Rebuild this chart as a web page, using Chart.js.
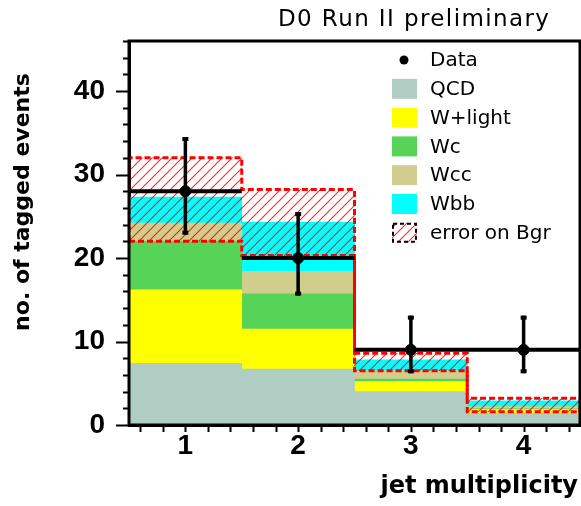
<!DOCTYPE html>
<html><head><meta charset="utf-8">
<script src="https://cdn.jsdelivr.net/npm/chart.js@4.4.0/dist/chart.umd.min.js"></script>
<style>html,body{margin:0;padding:0;background:#fff;}</style>
</head><body>
<canvas id="c" width="581" height="506"></canvas>
<script>
const categories = [1, 2, 3, 4];
const qcd    = [7.4, 6.7, 4.0, 1.4];
const wlight = [8.8, 4.8, 1.2, 0.45];
const wc     = [5.8, 4.2, 0.3, 0.1];
const wcc    = [2.2, 2.7, 1.0, 0.25];
const wbb    = [3.1, 5.9, 1.3, 0.7];
const bgrLow  = [22.0, 20.3, 6.5, 1.6];
const bgrHigh = [32.0, 28.2, 8.6, 3.2];
const dataVals = [28, 20, 9, 9];
const dataLow  = [22.8, 15.5, 6.2, 6.2];
const dataHigh = [34.5, 25.5, 13.1, 13.1];
const xTickLabels = [1, 2, 3, 4];
const yTickLabels = [0, 10, 20, 30, 40];

const canvas = document.getElementById('c');
const ctx0 = canvas.getContext('2d');
function makeHatch() {
  const s = 10;
  const p = document.createElement('canvas');
  p.width = s; p.height = s;
  const g = p.getContext('2d');
  g.strokeStyle = 'rgba(255,0,0,0.85)';
  g.lineWidth = 1.1;
  g.beginPath();
  g.moveTo(0, s); g.lineTo(s, 0);
  g.moveTo(-s, s); g.lineTo(s, -s);
  g.moveTo(0, 2 * s); g.lineTo(2 * s, 0);
  g.stroke();
  return ctx0.createPattern(p, 'repeat');
}
const hatch = makeHatch();

const pts = (arr) => categories.map((c, i) => ({x: c, y: arr[i]}));
const comp = (label, arr, color) => ({
  type: 'bar', label, data: pts(arr), backgroundColor: color, borderWidth: 0,
  barPercentage: 1, categoryPercentage: 1, order: 3, stack: 'bg'
});

const datasets = [
  comp('QCD', qcd, '#b0cdc4'),
  comp('W+light', wlight, '#ffff00'),
  comp('Wc', wc, '#57d357'),
  comp('Wcc', wcc, '#d1cd8c'),
  comp('Wbb', wbb, '#00ffff'),
  {
    type: 'bar', label: 'error on Bgr', data: categories.map((c, i) => ({x: c, y: [bgrLow[i], bgrHigh[i]]})),
    backgroundColor: hatch, borderWidth: 0, barPercentage: 1, categoryPercentage: 1,
    grouped: false, order: 2, stack: 'err'
  },
  {
    type: 'line', label: 'Data step', stack: 'dstep', order: 1,
    data: categories.flatMap((c, i) => [{x: c - 0.5, y: dataVals[i]}, {x: c + 0.5, y: dataVals[i]}, {x: c + 0.5, y: null}]),
    borderColor: '#000', borderWidth: 4, pointRadius: 0, spanGaps: false, fill: false
  },
  {
    type: 'line', label: 'Data', stack: 'dpts', order: 0, data: pts(dataVals),
    showLine: false, pointRadius: 5.5, pointBackgroundColor: '#000', pointBorderColor: '#000', borderColor: '#000'
  }
];
const BAND = 5, POINTS = 7;

const bandOutline = {
  id: 'bandOutline',
  afterDatasetDraw(chart, args) {
    if (args.index !== BAND) return;
    const ctx = chart.ctx, a = chart.chartArea;
    const els = chart.getDatasetMeta(BAND).data;
    ctx.save();
    ctx.beginPath(); ctx.rect(a.left, a.top, a.right - a.left, a.bottom - a.top); ctx.clip();
    ctx.setLineDash([6, 3]); ctx.lineWidth = 3; ctx.strokeStyle = '#ff0000';
    const geo = els.map(e => e.getProps(['x', 'y', 'base', 'width'], true));
    ctx.beginPath();
    geo.forEach((g, i) => {
      const l = g.x - g.width / 2, r = g.x + g.width / 2;
      if (i === 0) { ctx.moveTo(l, g.base); ctx.lineTo(l, g.y); } else ctx.lineTo(l, g.y);
      ctx.lineTo(r, g.y);
      if (i === geo.length - 1) ctx.lineTo(r, g.base);
    });
    ctx.stroke();
    ctx.beginPath();
    geo.forEach((g, i) => {
      const l = g.x - g.width / 2, r = g.x + g.width / 2;
      if (i === 0) ctx.moveTo(l, g.base); else ctx.lineTo(l, g.base);
      ctx.lineTo(r, g.base);
    });
    ctx.stroke();
    ctx.restore();
  }
};

const errorBars = {
  id: 'errorBars',
  afterDatasetsDraw(chart) {
    const ctx = chart.ctx, xs = chart.scales.x, ys = chart.scales.y;
    ctx.save();
    ctx.strokeStyle = '#000'; ctx.fillStyle = '#000'; ctx.lineWidth = 3.5;
    categories.forEach((c, i) => {
      const x = xs.getPixelForValue(c);
      const yl = ys.getPixelForValue(dataLow[i]), yh = ys.getPixelForValue(dataHigh[i]);
      ctx.beginPath(); ctx.moveTo(x, yl); ctx.lineTo(x, yh); ctx.stroke();
      ctx.fillRect(x - 3, yh, 6, 4);
      ctx.fillRect(x - 3, yl - 4, 6, 4);
    });
    ctx.restore();
  }
};

const decorations = {
  id: 'decorations',
  afterDraw(chart) {
    const ctx = chart.ctx, a = chart.chartArea, xs = chart.scales.x, ys = chart.scales.y;
    ctx.save();
    // frame
    ctx.strokeStyle = '#000'; ctx.lineWidth = 3;
    ctx.strokeRect(a.left, a.top, a.right - a.left, a.bottom - a.top);
    // y ticks (outward)
    ctx.lineWidth = 2;
    for (let v = 0; v <= ys.max + 1e-9; v += 2) {
      const y = Math.round(ys.getPixelForValue(v)) + 0.5;
      const len = (v % 10 === 0) ? 13 : 6;
      ctx.beginPath(); ctx.moveTo(a.left - len, y); ctx.lineTo(a.left, y); ctx.stroke();
    }
    // x ticks (outward)
    for (let k = 3; k <= 22; k++) {
      const v = k * 0.2;
      const x = Math.round(xs.getPixelForValue(v)) + 0.5;
      ctx.beginPath(); ctx.moveTo(x, a.bottom); ctx.lineTo(x, a.bottom + 7); ctx.stroke();
    }
    // title
    ctx.fillStyle = '#000';
    ctx.font = '23px "DejaVu Sans"';
    ctx.letterSpacing = '1.4px';
    ctx.textAlign = 'left'; ctx.textBaseline = 'alphabetic';
    ctx.fillText('D0 Run II preliminary', 278, 26);
    ctx.letterSpacing = '0px';
    // x title
    ctx.font = 'bold 24px "DejaVu Sans"';
    ctx.textAlign = 'right';
    ctx.fillText('jet multiplicity', 578, 493);
    // y title
    ctx.save();
    ctx.translate(23, 202); ctx.rotate(-Math.PI / 2);
    ctx.font = 'bold 22px "DejaVu Sans"';
    ctx.textAlign = 'center'; ctx.textBaseline = 'middle';
    ctx.fillText('no. of tagged events', 0, 0);
    ctx.restore();
    // legend
    const items = [POINTS, 0, 1, 2, 3, 4, BAND];
    ctx.font = '20px "DejaVu Sans"';
    ctx.textAlign = 'left'; ctx.textBaseline = 'middle';
    items.forEach((di, r) => {
      const ds = chart.data.datasets[di];
      const y = 60 + r * 28.8;
      if (di === POINTS) {
        ctx.beginPath(); ctx.arc(404, y, 4.5, 0, Math.PI * 2); ctx.fillStyle = '#000'; ctx.fill();
      } else if (di === BAND) {
        ctx.fillStyle = '#fff'; ctx.fillRect(392, y - 10, 25, 20);
        ctx.fillStyle = hatch; ctx.fillRect(392, y - 10, 25, 20);
        ctx.setLineDash([4, 3]); ctx.lineWidth = 2; ctx.strokeStyle = '#000';
        ctx.strokeRect(393, y - 9, 23, 18); ctx.setLineDash([]);
      } else {
        ctx.fillStyle = ds.backgroundColor; ctx.fillRect(392, y - 10, 25, 20);
      }
      ctx.fillStyle = '#000';
      ctx.fillText(ds.label, 430, y + 1);
    });
    ctx.restore();
  }
};

new Chart(canvas, {
  data: {datasets},
  options: {
    responsive: false, animation: false, devicePixelRatio: 1, events: [],
    layout: {autoPadding: false, padding: {left: 0, right: 1, top: 41, bottom: 0}},
    plugins: {legend: {display: false}, tooltip: {enabled: false}, title: {display: false}},
    scales: {
      x: {
        type: 'linear', min: 0.5, max: 4.5, stacked: true, offset: false,
        afterFit: (s) => { s.height = 81; s.paddingLeft = 0; s.paddingRight = 0; },
        afterBuildTicks: (s) => { s.ticks = xTickLabels.map(v => ({value: v})); },
        grid: {display: false, drawTicks: false},
        border: {display: true, width: 3, color: '#000'},
        ticks: {padding: 4, color: '#000', font: {family: 'Liberation Sans', size: 28, weight: 'bold'}, maxRotation: 0, autoSkip: false}
      },
      y: {
        type: 'linear', min: 0, max: 46, stacked: true,
        afterFit: (s) => { s.width = 129; s.paddingTop = 0; s.paddingBottom = 0; },
        afterBuildTicks: (s) => { s.ticks = yTickLabels.map(v => ({value: v})); },
        grid: {display: false, drawTicks: false},
        border: {display: true, width: 3, color: '#000'},
        ticks: {padding: 24, color: '#000', font: {family: 'Liberation Sans', size: 28, weight: 'bold'}, autoSkip: false}
      }
    }
  },
  plugins: [bandOutline, errorBars, decorations]
});
</script>
</body></html>
